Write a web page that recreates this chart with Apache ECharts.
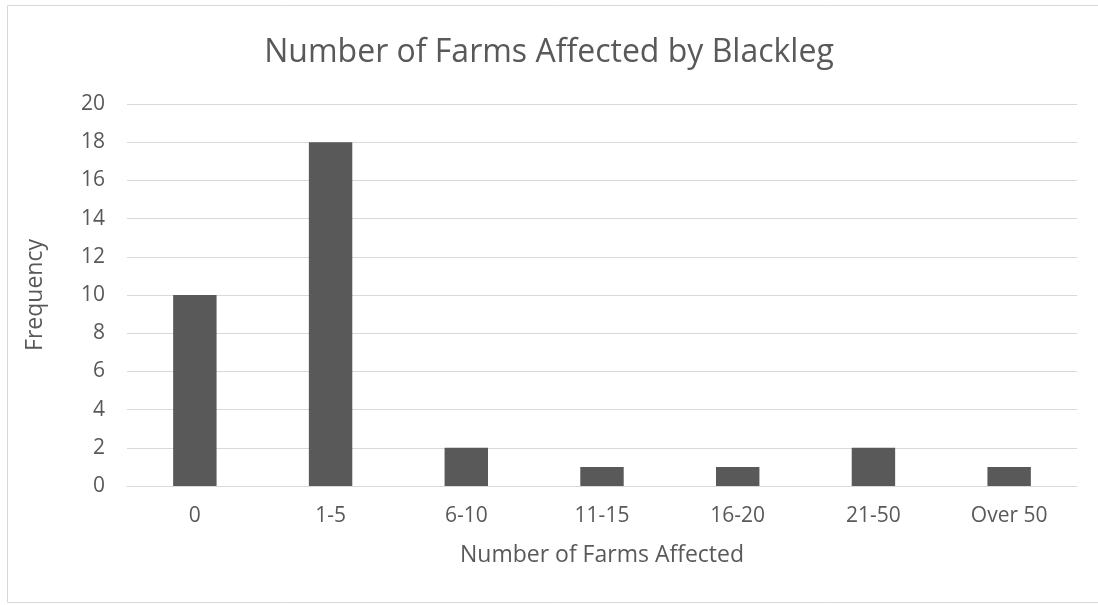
<!DOCTYPE html>
<html>
<head>
<meta charset="utf-8">
<script src="https://cdn.jsdelivr.net/npm/echarts@6/dist/echarts.min.js"></script>
<style>
  html, body { margin: 0; padding: 0; background: #fff; }
  #chart { width: 1098px; height: 605px; }
</style>
</head>
<body>
<div id="chart"></div>
<script>
// Frequency of outbreaks by number of farms affected
const categories = ['0', '1-5', '6-10', '11-15', '16-20', '21-50', 'Over 50'];
const frequency = [10, 18, 2, 1, 1, 2, 1];
const yTicks = { min: 0, max: 20, interval: 2 };

const textColor = '#595959';
const fontFamily = '"Open Sans", "Noto Sans", sans-serif';

const chart = echarts.init(document.getElementById('chart'), null, { renderer: 'canvas' });
chart.setOption({
  backgroundColor: '#ffffff',
  animation: false,
  textStyle: { fontFamily: fontFamily, color: textColor },
  graphic: [{
    type: 'rect',
    shape: { x: 7.5, y: 5.5, width: 1100, height: 597 },
    style: { fill: 'none', stroke: '#d9d9d9', lineWidth: 1 },
    silent: true
  }],
  title: {
    text: 'Number of Farms Affected by Blackleg',
    left: 'center',
    top: 32,
    textStyle: { fontFamily: fontFamily, fontSize: 32, fontWeight: 'normal', color: textColor }
  },
  grid: { left: 127, right: 21, top: 104, bottom: 119, containLabel: false },
  xAxis: {
    type: 'category',
    data: categories,
    name: 'Number of Farms Affected',
    nameLocation: 'middle',
    nameGap: 58,
    nameTextStyle: { fontFamily: fontFamily, fontSize: 23, color: textColor },
    axisLine: { lineStyle: { color: '#d9d9d9', width: 1 } },
    axisTick: { show: false },
    axisLabel: { fontFamily: fontFamily, fontSize: 21, color: textColor, margin: 20 }
  },
  yAxis: {
    type: 'value',
    min: yTicks.min,
    max: yTicks.max,
    interval: yTicks.interval,
    name: 'Frequency',
    nameLocation: 'middle',
    nameGap: 80,
    nameTextStyle: { fontFamily: fontFamily, fontSize: 23, color: textColor },
    axisLine: { show: false },
    axisTick: { show: false },
    splitLine: { lineStyle: { color: '#d9d9d9', width: 1 } },
    axisLabel: { fontFamily: fontFamily, fontSize: 21, color: textColor, margin: 22 }
  },
  series: [{
    type: 'bar',
    data: frequency,
    barWidth: '32%',
    itemStyle: { color: '#595959' }
  }]
});
</script>
</body>
</html>
